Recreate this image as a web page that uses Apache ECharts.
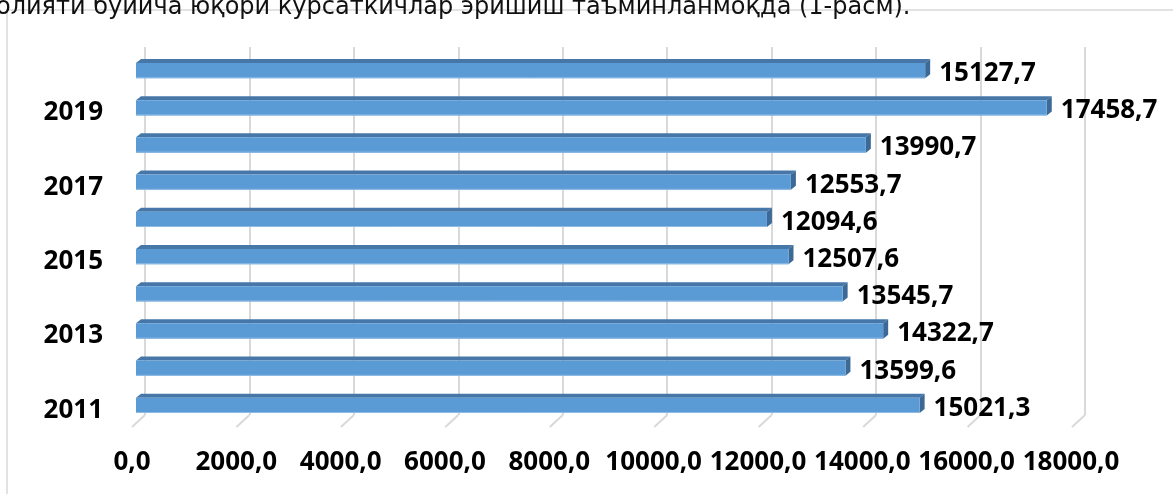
<!DOCTYPE html>
<html>
<head>
<meta charset="utf-8">
<script src="https://cdn.jsdelivr.net/npm/echarts@6/dist/echarts.min.js"></script>
<style>
html,body{margin:0;padding:0;background:#fff;}
#c{width:1173px;height:494px;}
</style>
</head>
<body>
<div id="c"></div>
<script>
const years = ['2011','2012','2013','2014','2015','2016','2017','2018','2019','2020'];
const values = [15021.3, 13599.6, 14322.7, 13545.7, 12507.6, 12094.6, 12553.7, 13990.7, 17458.7, 15127.7];
const xTicks = [0, 2000, 4000, 6000, 8000, 10000, 12000, 14000, 16000, 18000];
const headText = 'олияти бўйича юқори кўрсаткичлар эришиш таъминланмоқда (1-расм).';

const fmt = v => Number(v).toFixed(1).replace('.', ',');
const LABEL_FONT = '"Noto Sans"';
const LABEL_SIZE = 26;

const chart = echarts.init(document.getElementById('c'), null, {renderer: 'canvas'});

const option = {
  animation: false,
  backgroundColor: '#ffffff',
  graphic: [
    {
      type: 'rect', z: -10, silent: true,
      shape: {x: 7, y: 10, width: 1300, height: 700},
      style: {fill: '#ffffff', stroke: '#d9d9d9', lineWidth: 1.5}
    },
    {
      type: 'text', z: 10, silent: true,
      x: -4, y: -4,
      style: {
        text: headText, fill: '#111',
        font: '24px "DejaVu Sans"',
        align: 'left', verticalAlign: 'top'
      }
    }
  ],
  grid: [
    {left: 136, right: 98, top: 52, bottom: 70},
    {left: 145, right: 88, top: 47, bottom: 79},
    {left: 132, right: 102, top: 57, bottom: 65}
  ],
  xAxis: [
    {gridIndex: 0, type: 'value', min: 0, max: 18000, interval: 2000, show: false},
    {gridIndex: 1, type: 'value', min: 0, max: 18000, interval: 2000,
      axisLine: {show: false}, axisTick: {show: false}, axisLabel: {show: false},
      splitLine: {show: true, lineStyle: {color: '#d9d9d9', width: 2}}},
    {gridIndex: 2, type: 'value', min: 0, max: 18000, interval: 2000,
      axisLine: {show: false}, axisTick: {show: false}, splitLine: {show: false},
      axisLabel: {show: true, formatter: v => fmt(v), color: '#000',
        fontFamily: LABEL_FONT, fontWeight: 'bold', fontSize: LABEL_SIZE, margin: 21}}
  ],
  yAxis: [
    {gridIndex: 0, type: 'category', data: years, show: false},
    {gridIndex: 1, type: 'value', min: 0, max: 1, show: false},
    {gridIndex: 2, type: 'category', data: years,
      axisLine: {show: false}, axisTick: {show: false}, splitLine: {show: false},
      axisLabel: {show: true, interval: 1, color: '#000', margin: 29,
        fontFamily: LABEL_FONT, fontWeight: 'bold', fontSize: LABEL_SIZE}}
  ],
  series: [
    {
      type: 'custom',
      xAxisIndex: 1, yAxisIndex: 1,
      silent: true, z: 1,
      data: xTicks.map(v => [v, 0]),
      encode: {x: 0, y: 1},
      renderItem: function (params, api) {
        const p = api.coord([api.value(0), 0]);
        return {
          type: 'line',
          shape: {x1: p[0], y1: p[1], x2: p[0] - 13, y2: p[1] + 12},
          style: {stroke: '#d9d9d9', lineWidth: 2}
        };
      }
    },
    {
      type: 'custom',
      xAxisIndex: 0, yAxisIndex: 0,
      silent: true, z: 5,
      data: values.map((v, i) => [v, i]),
      encode: {x: 0, y: 1},
      renderItem: function (params, api) {
        const v = api.value(0);
        const idx = api.value(1);
        const s = api.coord([0, idx]);
        const e = api.coord([v, idx]);
        const band = api.size([0, 1])[1];
        const h = band * 0.41;
        const x0 = s[0], x1 = e[0];
        const y0 = e[1] - h / 2, y1 = e[1] + h / 2;
        const dx = 5, dy = 4;
        return {
          type: 'group',
          children: [
            {type: 'polygon', shape: {points: [[x0, y0], [x0 + dx, y0 - dy], [x1 + dx, y0 - dy], [x1, y0]]},
              style: {fill: '#4677a8'}},
            {type: 'polygon', shape: {points: [[x1, y0], [x1 + dx, y0 - dy], [x1 + dx, y1 - dy], [x1, y1]]},
              style: {fill: '#3c6995'}},
            {type: 'rect', shape: {x: x0, y: y0, width: x1 - x0, height: h},
              style: {fill: '#5b9bd5'}},
            {type: 'line', shape: {x1: x0, y1: y1 - 0.5, x2: x1, y2: y1 - 0.5},
              style: {stroke: '#8fbbe6', lineWidth: 1}},
            {type: 'text', style: {text: fmt(v), x: x1 + 14, y: e[1] + 3,
              fill: '#000', font: 'bold ' + LABEL_SIZE + 'px ' + LABEL_FONT, align: 'left', verticalAlign: 'middle'}}
          ]
        };
      }
    }
  ]
};
chart.setOption(option);
</script>
</body>
</html>
